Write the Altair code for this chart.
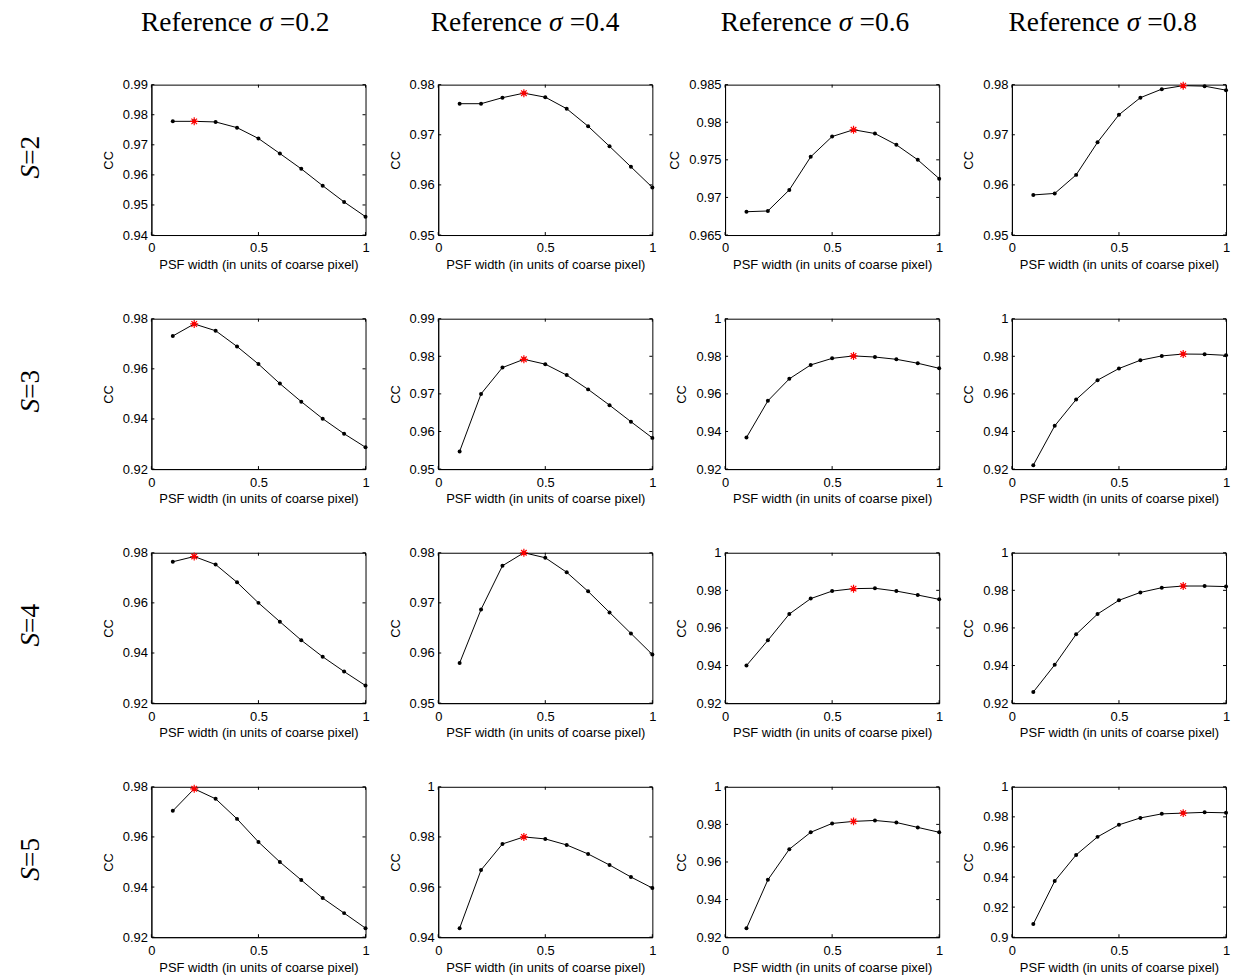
import altair as alt
import pandas as pd

# ---------------- data ----------------
psf_width = [0.1, 0.2, 0.3, 0.4, 0.5, 0.6, 0.7, 0.8, 0.9, 1.0]
ref_sigma = [0.2, 0.4, 0.6, 0.8]
s_values = ["2", "3", "4", "5"]
x_ticks = [0, 0.5, 1]

cc_S2 = [
    [0.9778, 0.9778, 0.9776, 0.9757, 0.9721, 0.9671, 0.9620, 0.9564, 0.9510, 0.9461],
    [0.9762, 0.9762, 0.9774, 0.9783, 0.9775, 0.9752, 0.9717, 0.9677, 0.9636, 0.9595],
    [0.9681, 0.9682, 0.9710, 0.9754, 0.9781, 0.9790, 0.9785, 0.9770, 0.9750, 0.9725],
    [0.9580, 0.9583, 0.9620, 0.9685, 0.9740, 0.9774, 0.9791, 0.9798, 0.9797, 0.9789],
]
cc_S3 = [
    [0.9731, 0.9779, 0.9752, 0.9689, 0.9619, 0.9541, 0.9469, 0.9401, 0.9341, 0.9287],
    [0.9547, 0.9700, 0.9770, 0.9792, 0.9779, 0.9750, 0.9712, 0.9670, 0.9626, 0.9583],
    [0.9368, 0.9563, 0.9680, 0.9754, 0.9789, 0.9802, 0.9796, 0.9784, 0.9763, 0.9736],
    [0.9221, 0.9430, 0.9570, 0.9673, 0.9735, 0.9779, 0.9802, 0.9812, 0.9811, 0.9805],
]
cc_S4 = [
    [0.9764, 0.9785, 0.9753, 0.9682, 0.9600, 0.9525, 0.9451, 0.9385, 0.9326, 0.9270],
    [0.9580, 0.9687, 0.9774, 0.9800, 0.9790, 0.9761, 0.9723, 0.9681, 0.9639, 0.9597],
    [0.9400, 0.9534, 0.9674, 0.9756, 0.9796, 0.9809, 0.9811, 0.9796, 0.9775, 0.9752],
    [0.9259, 0.9404, 0.9566, 0.9674, 0.9747, 0.9789, 0.9814, 0.9823, 0.9823, 0.9820],
]
cc_S5 = [
    [0.9704, 0.9792, 0.9752, 0.9672, 0.9580, 0.9500, 0.9428, 0.9356, 0.9296, 0.9236],
    [0.9436, 0.9668, 0.9772, 0.9800, 0.9792, 0.9768, 0.9732, 0.9688, 0.9640, 0.9596],
    [0.9247, 0.9505, 0.9668, 0.9758, 0.9805, 0.9816, 0.9821, 0.9810, 0.9784, 0.9758],
    [0.9087, 0.9373, 0.9547, 0.9667, 0.9747, 0.9793, 0.9820, 0.9825, 0.9830, 0.9827],
]

yticks_S2 = [
    [0.94, 0.95, 0.96, 0.97, 0.98, 0.99],
    [0.95, 0.96, 0.97, 0.98],
    [0.965, 0.97, 0.975, 0.98, 0.985],
    [0.95, 0.96, 0.97, 0.98],
]
yticks_S3 = [
    [0.92, 0.94, 0.96, 0.98],
    [0.95, 0.96, 0.97, 0.98, 0.99],
    [0.92, 0.94, 0.96, 0.98, 1],
    [0.92, 0.94, 0.96, 0.98, 1],
]
yticks_S4 = [
    [0.92, 0.94, 0.96, 0.98],
    [0.95, 0.96, 0.97, 0.98],
    [0.92, 0.94, 0.96, 0.98, 1],
    [0.92, 0.94, 0.96, 0.98, 1],
]
yticks_S5 = [
    [0.92, 0.94, 0.96, 0.98],
    [0.94, 0.96, 0.98, 1],
    [0.92, 0.94, 0.96, 0.98, 1],
    [0.9, 0.92, 0.94, 0.96, 0.98, 1],
]

CC = [cc_S2, cc_S3, cc_S4, cc_S5]
YT = [yticks_S2, yticks_S3, yticks_S4, yticks_S5]

# ---------------- layout ----------------
W, H = 215, 151
TICK = 3
TITLE_FS = 27.5
SERIF = "Liberation Serif"
SANS = "Liberation Sans"
title_center = [85, 88, 91, 92]   # column title centre, relative to panel left
STAR = "M-1,0L1,0M0,-1L0,1M-0.7,-0.7L0.7,0.7M-0.7,0.7L0.7,-0.7"

one = pd.DataFrame({"k": [0]})


def panel(r, c):
    ys = CC[r][c]
    ticks = YT[r][c]
    df = pd.DataFrame({"x": psf_width, "cc": ys})
    sx = ref_sigma[c]
    star_df = pd.DataFrame({"x": [sx], "cc": [ys[psf_width.index(sx)]]})
    xs = alt.Scale(domain=[0, 1], nice=False, zero=False)
    yscale = alt.Scale(domain=[ticks[0], ticks[-1]], nice=False, zero=False)
    xaxis = alt.Axis(values=x_ticks, format="~g",
                     title="PSF width (in units of coarse pixel)")
    yaxis = alt.Axis(values=ticks, format="~g", title="CC")

    def X():
        return alt.X("x:Q", scale=xs, axis=xaxis)

    def Y():
        return alt.Y("cc:Q", scale=yscale, axis=yaxis)

    line = alt.Chart(df).mark_line(color="black", strokeWidth=1).encode(x=X(), y=Y())
    pts = alt.Chart(df).mark_circle(color="black", size=16, opacity=1).encode(x=X(), y=Y())
    star = alt.Chart(star_df).mark_point(
        shape=STAR, color="red", size=64, strokeWidth=1.2, filled=False, opacity=1
    ).encode(x=X(), y=Y())
    ydf = pd.DataFrame({"cc": ticks})
    xdf = pd.DataFrame({"x": x_ticks})
    tl = alt.Chart(ydf).mark_rule(color="black", strokeWidth=1).encode(
        y=Y(), x=alt.value(0), x2=alt.value(TICK))
    tr = alt.Chart(ydf).mark_rule(color="black", strokeWidth=1).encode(
        y=Y(), x=alt.value(W - TICK), x2=alt.value(W))
    tb = alt.Chart(xdf).mark_rule(color="black", strokeWidth=1).encode(
        x=X(), y=alt.value(H), y2=alt.value(H - TICK))
    tt = alt.Chart(xdf).mark_rule(color="black", strokeWidth=1).encode(
        x=X(), y=alt.value(0), y2=alt.value(TICK))

    layers = [line, pts, star, tl, tr, tb, tt]

    if r == 0:
        a = title_center[c] + 30  # sigma centre
        ty = -62
        t1 = alt.Chart(one).mark_text(font=SERIF, fontSize=TITLE_FS, align="right",
                                      baseline="middle", color="black").encode(
            x=alt.value(a - 14), y=alt.value(ty), text=alt.value("Reference"))
        t2 = alt.Chart(one).mark_text(font=SERIF, fontSize=TITLE_FS, fontStyle="italic",
                                      align="center", baseline="middle", color="black").encode(
            x=alt.value(a), y=alt.value(ty), text=alt.value("σ"))
        t3 = alt.Chart(one).mark_text(font=SERIF, fontSize=TITLE_FS, align="left",
                                      baseline="middle", color="black").encode(
            x=alt.value(a + 14), y=alt.value(ty), text=alt.value("=" + str(ref_sigma[c])))
        layers += [t1, t2, t3]
    if c == 0:
        lx = -121
        ly = H / 2 + 5
        s1 = alt.Chart(one).mark_text(font=SERIF, fontSize=TITLE_FS, fontStyle="italic",
                                      align="right", baseline="middle", angle=270,
                                      color="black").encode(
            x=alt.value(lx), y=alt.value(ly), text=alt.value("S"))
        s2 = alt.Chart(one).mark_text(font=SERIF, fontSize=TITLE_FS, align="left",
                                      baseline="middle", angle=270, color="black").encode(
            x=alt.value(lx), y=alt.value(ly), text=alt.value("=" + s_values[r]))
        layers += [s1, s2]

    return alt.layer(*layers).properties(width=W, height=H)


panels = [panel(r, c) for r in range(4) for c in range(4)]

chart = alt.concat(*panels, columns=4).properties(
    spacing={"row": 84, "column": 73},
    bounds="flush",
    padding={"left": 16, "top": 6, "right": 2, "bottom": 2},
    background="white",
).configure_view(
    stroke="black", strokeWidth=1
).configure_axis(
    labelFont=SANS, labelFontSize=13, labelColor="black",
    titleFont=SANS, titleFontSize=13, titleFontWeight="normal", titleColor="black",
    domainColor="black", domainWidth=1, ticks=False, grid=False,
    labelFlush=False, labelOverlap=False,
).configure_axisX(
    labelPadding=7, titlePadding=4
).configure_axisY(
    labelPadding=4, titlePadding=7
)

chart.save("out.html", embed_options={"renderer": "svg", "actions": False})
